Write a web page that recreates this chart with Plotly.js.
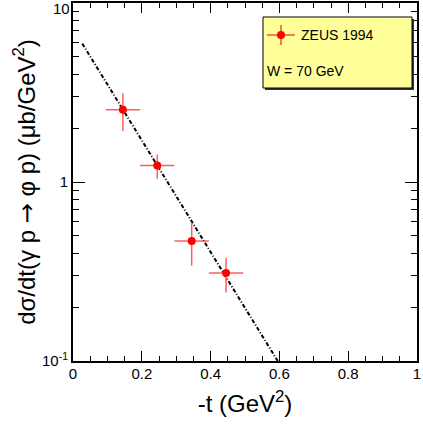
<!DOCTYPE html>
<html>
<head>
<meta charset="utf-8">
<script src="https://cdn.plot.ly/plotly-3.0.1.min.js"></script>
<style>html,body{margin:0;padding:0;background:#fff;}</style>
</head>
<body>
<div id="chart" style="width:423px;height:427px;"></div>
<script>
// ZEUS 1994 phi photoproduction, W = 70 GeV
const tVals = [0.145, 0.245, 0.345, 0.445];
const tErr = [0.05, 0.05, 0.05, 0.05];
const dsdt = [2.53, 1.235, 0.468, 0.310];
const dsdtErrUp = [0.59, 0.19, 0.13, 0.068];
const dsdtErrDown = [0.60, 0.19, 0.127, 0.069];

// exponential fit, drawn between its end points
const fitT = [0.027, 0.595];
const fitY = [5.93, 0.1];

// the top decade label sits flush with the page edge, so it is placed separately below
const yTickVals = [0.1, 1, 10];
const yTickText = ['10<sup>-1</sup>', '1', ''];
const yTopLabel = '10';
const yMinorVals = [0.2, 0.3, 0.4, 0.5, 0.6, 0.7, 0.8, 0.9, 2, 3, 4, 5, 6, 7, 8, 9];

const FONT = 'Liberation Sans, Arial, Helvetica, sans-serif';
const ARROW = '<span style="font-family:DejaVu Sans">\u2192</span>';

const traces = [
  {
    x: fitT, y: fitY, type: 'scatter', mode: 'lines',
    line: {color: '#000', width: 2, dash: '4px,2px,1px,2px'},
    hoverinfo: 'skip', showlegend: false
  },
  {
    x: tVals, y: dsdt, type: 'scatter', mode: 'markers',
    marker: {color: '#ff0000', size: 8},
    error_x: {type: 'data', array: tErr, color: 'rgba(255,40,40,0.75)', thickness: 1.5, width: 0},
    error_y: {type: 'data', array: dsdtErrUp, arrayminus: dsdtErrDown, symmetric: false,
              color: 'rgba(255,40,40,0.75)', thickness: 1.5, width: 0},
    name: 'ZEUS 1994', showlegend: false
  }
];

// legend box geometry (paper fractions computed from pixel layout)
const W = 423, H = 427, L = 73, R = 6, T = 3, B = 66;
const pw = W - L - R, ph = H - T - B;
const px = v => (v - L) / pw;
const py = v => (H - B - v) / ph;

const layout = {
  width: W, height: H,
  margin: {l: L, r: R, t: T, b: B},
  paper_bgcolor: '#fff', plot_bgcolor: '#fff',
  font: {family: FONT, color: '#000', size: 15},
  showlegend: false,
  xaxis: {
    range: [0, 1], dtick: 0.2, tick0: 0,
    ticks: 'inside', ticklen: 10, tickwidth: 1, tickcolor: '#000',
    minor: {dtick: 0.05, ticks: 'inside', ticklen: 5, tickcolor: '#000', showgrid: false},
    showline: true, linewidth: 2, linecolor: '#000', mirror: 'allticks',
    showgrid: false, zeroline: false,
    tickfont: {size: 15, family: FONT},
    ticklabelstandoff: -2,
    title: {text: '-t (GeV<sup>2</sup>)', font: {size: 24, family: FONT}, standoff: 14}
  },
  yaxis: {
    type: 'log', range: [-1, 1],
    tickmode: 'array', tickvals: yTickVals, ticktext: yTickText,
    ticks: 'inside', ticklen: 12, tickwidth: 1, tickcolor: '#000',
    minor: {tickmode: 'array', tickvals: yMinorVals, ticks: 'inside', ticklen: 6, tickcolor: '#000', showgrid: false},
    showline: true, linewidth: 2, linecolor: '#000', mirror: 'allticks',
    showgrid: false, zeroline: false,
    tickfont: {size: 15, family: FONT},
    title: {text: 'd\u03c3/dt(\u03b3 p ' + ARROW + ' \u03c6 p) (\u03bcb/GeV<sup>2</sup>)', font: {size: 24, family: FONT}, standoff: 0}
  },
  shapes: [
    // shadow
    {type: 'rect', xref: 'paper', yref: 'paper', x0: px(265), x1: px(414), y0: py(19), y1: py(90),
     fillcolor: '#333', line: {width: 0}, layer: 'above'},
    // box
    {type: 'rect', xref: 'paper', yref: 'paper', x0: px(263), x1: px(412), y0: py(17), y1: py(88),
     fillcolor: '#ffff99', line: {color: '#000', width: 1}, layer: 'above'},
    // legend symbol: error bars and dot
    {type: 'line', xref: 'paper', yref: 'paper', x0: px(267), x1: px(295), y0: py(35), y1: py(35),
     line: {color: 'rgba(255,40,40,0.85)', width: 1.5}, layer: 'above'},
    {type: 'line', xref: 'paper', yref: 'paper', x0: px(281), x1: px(281), y0: py(25), y1: py(45),
     line: {color: 'rgba(255,40,40,0.85)', width: 1.5}, layer: 'above'},
    {type: 'circle', xref: 'paper', yref: 'paper', x0: px(277), x1: px(285), y0: py(31), y1: py(39),
     fillcolor: '#ff0000', line: {width: 0}, layer: 'above'}
  ],
  annotations: [
    {text: yTopLabel, xref: 'paper', yref: 'paper', x: px(71), y: py(0),
     xanchor: 'right', yanchor: 'top', showarrow: false, font: {size: 15, family: FONT},
     borderpad: 0, yshift: 1},
    {text: 'ZEUS 1994', xref: 'paper', yref: 'paper', x: px(299), y: py(35),
     xanchor: 'left', yanchor: 'middle', showarrow: false, font: {size: 14, family: FONT}},
    {text: 'W = 70 GeV', xref: 'paper', yref: 'paper', x: px(265), y: py(71),
     xanchor: 'left', yanchor: 'middle', showarrow: false, font: {size: 14, family: FONT}}
  ]
};

Plotly.newPlot('chart', traces, layout, {displayModeBar: false, staticPlot: true});
</script>
</body>
</html>
